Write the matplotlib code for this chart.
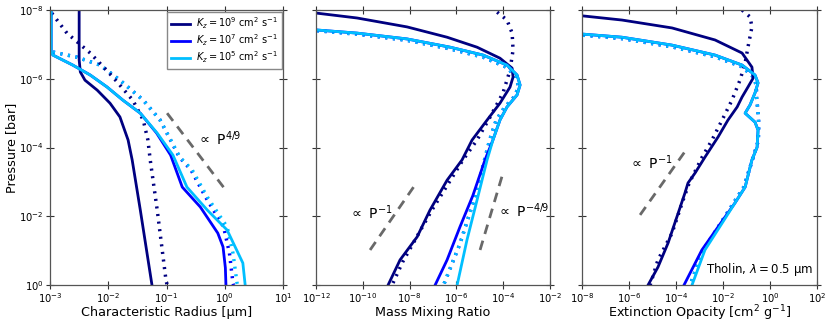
import numpy as np
import matplotlib
matplotlib.use("Agg")
import matplotlib.pyplot as plt
from matplotlib.ticker import LogLocator, NullLocator

# colours for the three Kz cases
c9 = "#000080"
c7 = "#0000ff"
c5 = "#00bfff"

kz_labels = [r"$K_z = 10^9$ cm$^2$ s$^{-1}$",
             r"$K_z = 10^7$ cm$^2$ s$^{-1}$",
             r"$K_z = 10^5$ cm$^2$ s$^{-1}$"]

# ---- panel 1: characteristic radius (log10 r [um], log10 P [bar])
r9_x = [-2.50, -2.50, -2.48, -2.40, -2.19, -1.97, -1.80, -1.66, -1.59, -1.45, -1.25]
r9_p = [-8.00, -6.55, -6.20, -5.96, -5.67, -5.29, -4.89, -4.22, -3.64, -2.18, 0.00]
r9d_x = [-2.97, -2.71, -2.31, -1.92, -1.58, -1.40, -1.32, -1.28, -1.16, -1.01, -0.99]
r9d_p = [-7.91, -7.33, -6.75, -6.05, -5.38, -4.80, -4.22, -3.64, -2.18, -0.15, 0.00]
r5_x = [-2.98, -2.98, -2.95, -2.61, -2.31, -2.02, -1.75, -1.45, -1.16, -0.89, -0.65, -0.30, 0.04, 0.31, 0.35]
r5_p = [-8.00, -6.78, -6.69, -6.40, -6.11, -5.76, -5.38, -5.00, -4.42, -3.78, -2.85, -2.18, -1.60, -0.64, 0.00]
r7_x = [-2.98, -2.98, -2.95, -2.61, -2.31, -2.02, -1.75, -1.45, -1.17, -0.93, -0.73, -0.42, -0.12, -0.03, 0.01, 0.02]
r7_p = [-8.00, -6.78, -6.69, -6.40, -6.11, -5.76, -5.38, -5.00, -4.42, -3.78, -2.85, -2.27, -1.51, -1.11, -0.50, 0.00]
r5d_x = [-2.95, -2.54, -2.14, -1.80, -1.40, -1.11, -0.77, -0.56, -0.30, 0.04, 0.14, 0.21, 0.22]
r5d_p = [-6.78, -6.63, -6.40, -5.96, -5.38, -4.80, -3.72, -3.35, -2.56, -1.69, -0.93, -0.06, 0.00]
r7d_x = [-2.95, -2.54, -2.14, -1.80, -1.40, -1.11, -0.78, -0.58, -0.33, -0.02, 0.08, 0.14, 0.15]
r7d_p = [-6.78, -6.63, -6.40, -5.96, -5.38, -4.80, -3.72, -3.35, -2.56, -1.69, -0.93, -0.06, 0.00]

# ---- panel 2: mass mixing ratio
m9_x = [-11.96, -10.25, -8.11, -6.40, -5.12, -4.14, -3.62, -3.58, -3.71, -4.14, -4.69, -5.33, -5.76, -6.40, -7.13, -7.68, -8.41, -8.92]
m9_p = [-7.91, -7.77, -7.51, -7.21, -6.92, -6.60, -6.31, -6.05, -5.76, -5.29, -4.80, -4.22, -3.64, -3.05, -2.18, -1.40, -0.73, 0.00]
m9d_x = [-4.26, -3.84, -3.62, -3.58, -3.71, -4.01, -4.56, -5.12, -5.72, -7.05, -8.30, -8.75]
m9d_p = [-7.94, -7.71, -7.33, -6.84, -6.25, -5.59, -4.89, -4.22, -3.64, -2.18, -0.67, 0.00]
m5_x = [-11.96, -10.25, -8.11, -6.27, -4.86, -3.84, -3.41, -3.28, -3.41, -3.84, -4.14, -4.44, -4.69, -5.12, -5.55, -5.97]
m5_p = [-7.42, -7.33, -7.16, -6.92, -6.69, -6.40, -6.11, -5.82, -5.53, -5.18, -4.80, -4.22, -3.64, -2.47, -1.31, 0.00]
m7_x = [-11.96, -10.25, -8.11, -6.27, -4.86, -3.84, -3.41, -3.28, -3.41, -3.84, -4.14, -4.44, -4.78, -5.30, -5.85, -6.40, -6.91]
m7_p = [-7.42, -7.33, -7.16, -6.92, -6.69, -6.40, -6.11, -5.82, -5.53, -5.18, -4.80, -4.22, -3.64, -2.60, -1.69, -0.73, 0.00]
m5d_x = [-11.96, -10.25, -8.11, -6.27, -4.86, -3.84, -3.45, -3.35, -3.50, -3.95, -4.30, -4.58, -4.80, -5.25, -5.85, -6.55]
m5d_p = [-7.40, -7.30, -7.12, -6.87, -6.63, -6.33, -6.05, -5.78, -5.50, -5.16, -4.80, -4.22, -3.64, -2.47, -1.20, 0.00]

# ---- panel 3: extinction opacity
k9_x = [-7.96, -6.30, -4.17, -2.34, -1.19, -0.77, -0.72, -0.94, -1.19, -1.40, -1.79, -2.21, -2.77, -3.19, -3.49, -3.62, -3.91, -4.34, -4.77, -5.19]
k9_p = [-7.83, -7.71, -7.48, -7.13, -6.75, -6.34, -6.02, -5.76, -5.47, -5.18, -4.80, -4.31, -3.72, -3.26, -2.97, -2.68, -2.09, -1.22, -0.52, 0.00]
k9d_x = [-1.19, -0.85, -0.77, -0.94, -1.06, -1.28, -1.62, -2.04, -2.47, -2.89, -3.45, -3.74, -4.17, -4.77, -5.10]
k9d_p = [-8.00, -7.80, -7.51, -6.92, -6.46, -5.96, -5.38, -4.80, -4.22, -3.72, -2.95, -2.39, -1.51, -0.73, 0.00]
k5_x = [-7.96, -6.30, -4.17, -2.34, -1.19, -0.64, -0.51, -0.64, -0.85, -1.06, -0.64, -0.51, -0.55, -0.77, -1.06, -1.49, -2.04, -2.77, -3.32]
k5_p = [-7.30, -7.21, -6.98, -6.69, -6.40, -6.11, -5.88, -5.59, -5.24, -5.00, -4.74, -4.51, -4.01, -3.64, -2.85, -2.39, -1.80, -1.02, 0.00]
k7_x = [-7.96, -6.30, -4.17, -2.34, -1.19, -0.64, -0.51, -0.64, -0.85, -1.06, -0.64, -0.51, -0.55, -0.77, -1.06, -1.49, -2.10, -2.90, -3.66]
k7_p = [-7.30, -7.21, -6.98, -6.69, -6.40, -6.11, -5.88, -5.59, -5.24, -5.00, -4.74, -4.51, -4.01, -3.64, -2.85, -2.39, -1.80, -1.02, 0.00]
k5d_x = [-7.96, -6.30, -4.17, -2.34, -1.19, -0.70, -0.58, -0.58, -0.52, -0.48, -0.50, -0.75, -1.12, -1.55, -2.10, -2.85, -3.40]
k5d_p = [-7.27, -7.17, -6.93, -6.64, -6.35, -6.05, -5.80, -5.50, -5.10, -4.70, -4.20, -3.64, -2.85, -2.39, -1.80, -1.02, 0.00]

# power-law guide lines (log10 x, log10 P)
g1_x, g1_p = [-0.99, -0.01], [-5.00, -2.82]
g2a_x, g2a_p = [-9.69, -7.68], [-1.02, -3.00]
g2b_x, g2b_p = [-4.99, -4.01], [-1.02, -3.26]
g3_x, g3_p = [-5.53, -3.49], [-2.04, -4.01]


def L(v):
    return 10.0 ** np.array(v)


fig = plt.figure(figsize=(8.31, 3.25), dpi=100)
ax1 = fig.add_axes([0.0602, 0.123, 0.2804, 0.846])
ax2 = fig.add_axes([0.3803, 0.123, 0.2816, 0.846])
ax3 = fig.add_axes([0.7004, 0.123, 0.2828, 0.846])

lw = 2.0
dot = dict(lw=2.5, ls=(0, (0.6, 1.6)))
guide = dict(color="dimgray", lw=2, ls=(0, (3.5, 2.5)))

# panel 1
ax1.plot(L(r7d_x), L(r7d_p), color=c7, **dot)
ax1.plot(L(r5d_x), L(r5d_p), color=c5, **dot)
ax1.plot(L(r9d_x), L(r9d_p), color=c9, **dot)
ax1.plot(L(r9_x), L(r9_p), color=c9, lw=lw, label=kz_labels[0])
ax1.plot(L(r7_x), L(r7_p), color=c7, lw=lw, label=kz_labels[1])
ax1.plot(L(r5_x), L(r5_p), color=c5, lw=lw, label=kz_labels[2])
ax1.plot(L(g1_x), L(g1_p), **guide)
ax1.text(0.33, 10 ** -4.25, r"$\propto$ P$^{4/9}$", fontsize=10, va="center")

# panel 2
ax2.plot(L(m9d_x), L(m9d_p), color=c9, **dot)
ax2.plot(L(m5d_x), L(m5d_p), color=c7, **dot)
ax2.plot(L(m5d_x), L(m5d_p), color=c5, **dot)
ax2.plot(L(m9_x), L(m9_p), color=c9, lw=lw)
ax2.plot(L(m7_x), L(m7_p), color=c7, lw=lw)
ax2.plot(L(m5_x), L(m5_p), color=c5, lw=lw)
ax2.plot(L(g2a_x), L(g2a_p), **guide)
ax2.plot(L(g2b_x), L(g2b_p), **guide)
ax2.text(10 ** -10.6, 10 ** -2.1, r"$\propto$ P$^{-1}$", fontsize=10, va="center")
ax2.text(10 ** -4.25, 10 ** -2.15, r"$\propto$ P$^{-4/9}$", fontsize=10, va="center")

# panel 3
ax3.plot(L(k9d_x), L(k9d_p), color=c9, **dot)
ax3.plot(L(k5d_x), L(k5d_p), color=c7, **dot)
ax3.plot(L(k5d_x), L(k5d_p), color=c5, **dot)
ax3.plot(L(k9_x), L(k9_p), color=c9, lw=lw)
ax3.plot(L(k7_x), L(k7_p), color=c7, lw=lw)
ax3.plot(L(k5_x), L(k5_p), color=c5, lw=lw)
ax3.plot(L(g3_x), L(g3_p), **guide)
ax3.text(10 ** -6.0, 10 ** -3.55, r"$\propto$ P$^{-1}$", fontsize=10, va="center")
ax3.text(10 ** 1.85, 10 ** -0.45, r"Tholin, $\lambda = 0.5$ μm", fontsize=8.5,
         ha="right", va="center")

xlims = [(1e-3, 1e1), (1e-12, 1e-2), (1e-8, 1e2)]
xbases = [10, 100, 100]
xlabels = ["Characteristic Radius [μm]", "Mass Mixing Ratio",
           r"Extinction Opacity [cm$^2$ g$^{-1}$]"]
for ax, xl, xb, lab in zip([ax1, ax2, ax3], xlims, xbases, xlabels):
    ax.set_xscale("log")
    ax.set_yscale("log")
    ax.set_xlim(xl)
    ax.set_ylim(1e0, 1e-8)
    ax.xaxis.set_major_locator(LogLocator(base=xb, numticks=20))
    ax.yaxis.set_major_locator(LogLocator(base=100, numticks=20))
    ax.xaxis.set_minor_locator(NullLocator())
    ax.yaxis.set_minor_locator(NullLocator())
    ax.tick_params(direction="inout", length=6, width=0.8, colors="#333333",
                   labelcolor="black", labelsize=7.2, pad=1.5, top=True, right=True)
    for s in ax.spines.values():
        s.set_color("#555555")
        s.set_linewidth(0.9)
    ax.set_xlabel(lab, fontsize=9.2, labelpad=0.5)
ax3.xaxis.labelpad = -1
ax1.set_ylabel("Pressure [bar]", fontsize=9.2, labelpad=1)
ax2.tick_params(labelleft=False)
ax3.tick_params(labelleft=False)

ax1.legend(loc="upper right", fontsize=7.0, handlelength=2.0, borderpad=0.4,
           labelspacing=0.15, handletextpad=0.6, borderaxespad=0.15,
           fancybox=False, framealpha=1.0, edgecolor="#888888")

fig.savefig("out.png", dpi=100)
